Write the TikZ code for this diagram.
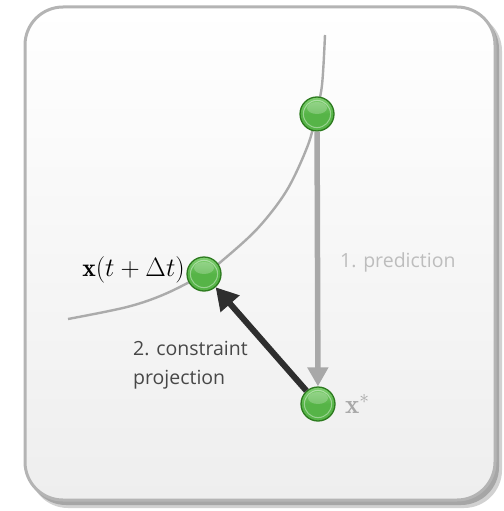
\documentclass[tikz,border=0pt]{standalone}
\usepackage{fontspec}
\usepackage{graphicx}
\setsansfont{Open Sans}
\usetikzlibrary{arrows.meta}
\definecolor{frameC}{HTML}{B4B4B4}
\definecolor{bgbot}{HTML}{EEEEEE}
\definecolor{curveC}{HTML}{ABABAB}
\definecolor{predC}{HTML}{A8A8A8}
\definecolor{projC}{HTML}{2E2E2E}
\definecolor{ballC}{HTML}{56B447}
\definecolor{ballTop}{HTML}{7FCF70}
\definecolor{ballEdge}{HTML}{2C7A1E}
\definecolor{lightTxt}{HTML}{BDBDBD}
\definecolor{darkTxt}{HTML}{474747}
\begin{document}
\begin{tikzpicture}[x=1pt,y=-1pt,
  ball/.style={circle, minimum size=34pt, inner sep=0pt, draw=ballEdge, line width=1.3pt,
    top color=ballTop, bottom color=ballC, middle color=ballC,
    path picture={
      \draw[white, opacity=0.4, line width=1pt] (path picture bounding box.center) circle (13.6pt);
      \fill[white, opacity=0.22] ([yshift=6pt]path picture bounding box.center) ellipse (10pt and 6pt);
    }},
  curveline/.style={draw=curveC, line width=2.4pt},
  predarrow/.style={draw=predC, line width=5.5pt, -{Triangle[length=19pt,width=20pt]}},
  projarrow/.style={draw=projC, line width=6pt, -{Triangle[length=22pt,width=24pt]}},
  sans/.style={font=\sffamily\fontsize{19.5}{29}\selectfont, inner sep=0pt},
  mathlab/.style={inner sep=0pt, font=\fontsize{20}{24}\selectfont},
]
\useasboundingbox (0,0) rectangle (503,511);
% shadow
\fill[black!18, rounded corners=38pt] (30,13) rectangle (502,508);
\fill[black!35, rounded corners=38pt] (28,11) rectangle (499,505);
% frame
\shade[rounded corners=38pt, top color=white, bottom color=bgbot] (25,7) rectangle (495,500);
\draw[frameC, line width=3pt, rounded corners=38pt] (25,7) rectangle (495,500);
% curve
\draw[curveline] plot[smooth, tension=0.55] coordinates {(325,35) (322,85) (316,114) (308,145) (287,190) (258,228) (223,260) (204,274) (165,294) (127,307) (68,319)};
% balls
\node[ball] (top) at (317,114) {};
\node[ball] (mid) at (204,274) {};
\node[ball] (bot) at (318,404) {};
% arrows
\draw[predarrow] (top) -- (bot);
\draw[projarrow] (bot) -- (mid);
% labels
\node[sans, text=lightTxt, anchor=west] (pred) at (340,262) {1. prediction};
\node[sans, text=darkTxt, anchor=north west, align=left] (proj) at (133,341) {2. constraint\\projection};
\node[mathlab, anchor=east] (xlab) at (185,270) {\scalebox{1.28}{$\mathbf{x}(t+\Delta t)$}};
\node[mathlab, anchor=west, text=predC] (xs) at (345,404) {\scalebox{1.35}{$\mathbf{x}^{*}$}};
\end{tikzpicture}
\end{document}
